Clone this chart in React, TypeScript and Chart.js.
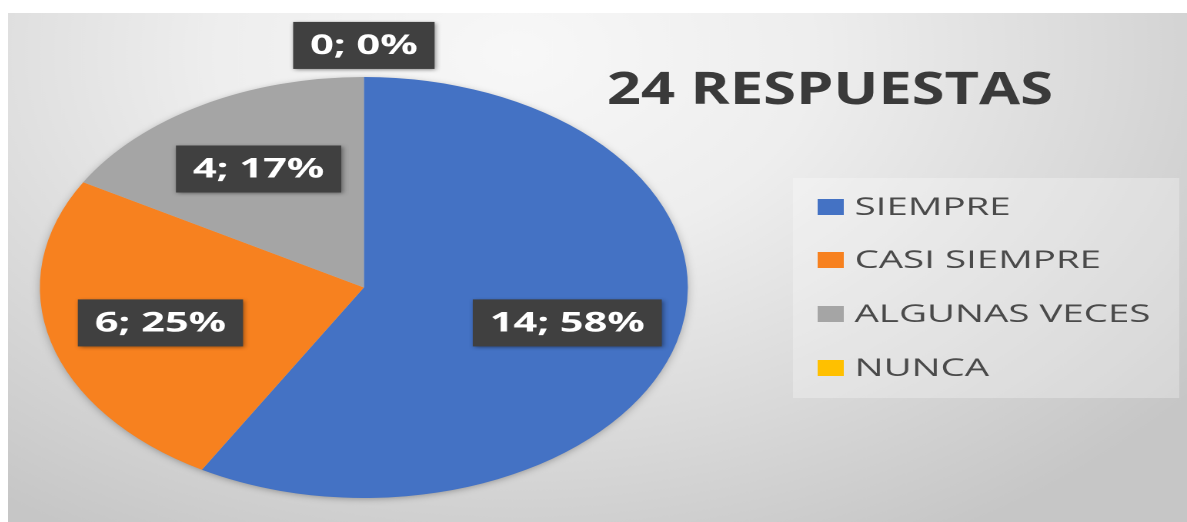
import React, { useEffect, useRef } from "react";
import { Chart, registerables } from "chart.js";

Chart.register(...registerables);

const categories = ["SIEMPRE", "CASI SIEMPRE", "ALGUNAS VECES", "NUNCA"];
const responses = [14, 6, 4, 0];
const sliceColors = ["#4472C4", "#F7811F", "#A5A5A5", "#FFC000"];
const titleText = "24 RESPUESTAS";

const LOGICAL_W = 766;
const LOGICAL_H = 509;
const DISPLAY_W = 1179;

const backgroundPlugin = {
  id: "bgPlugin",
  beforeDraw(chart: any) {
    const ctx = chart.ctx;
    const w = chart.width;
    const h = chart.height;
    ctx.save();
    const g = ctx.createRadialGradient(330, 40, 0, 330, 40, 560);
    g.addColorStop(0, "#f8f8f8");
    g.addColorStop(0.35, "#eeeeee");
    g.addColorStop(0.7, "#d9d9d9");
    g.addColorStop(1, "#c6c6c6");
    ctx.fillStyle = g;
    ctx.fillRect(0, 0, w, h);
    ctx.restore();
  },
  beforeDatasetsDraw(chart: any) {
    const meta = chart.getDatasetMeta(0);
    const arc = meta.data[0];
    if (!arc) return;
    const ctx = chart.ctx;
    ctx.save();
    ctx.shadowColor = "rgba(0,0,0,0.35)";
    ctx.shadowBlur = 14;
    ctx.shadowOffsetY = 3;
    ctx.fillStyle = "#c8c8c8";
    ctx.beginPath();
    ctx.arc(arc.x, arc.y, arc.outerRadius - 1, 0, Math.PI * 2);
    ctx.fill();
    ctx.restore();
  },
};

const dataLabelPlugin = {
  id: "dataLabelPlugin",
  afterDatasetsDraw(chart: any) {
    const ctx = chart.ctx;
    const meta = chart.getDatasetMeta(0);
    const ds = chart.data.datasets[0].data as number[];
    const total = ds.reduce((a, b) => a + b, 0);
    meta.data.forEach((arc: any, i: number) => {
      const v = ds[i];
      const pct = Math.round((v / total) * 100);
      const text = `${v}; ${pct}%`;
      const mid = (arc.startAngle + arc.endAngle) / 2;
      const f = v > 0 ? 0.65 : 1.15;
      const x = arc.x + Math.cos(mid) * arc.outerRadius * f;
      const y = arc.y + Math.sin(mid) * arc.outerRadius * f;
      ctx.save();
      ctx.font = 'bold 27px "Open Sans"';
      const tw = ctx.measureText(text).width;
      const bw = tw + 22;
      const bh = 47;
      ctx.shadowColor = "rgba(0,0,0,0.45)";
      ctx.shadowBlur = 7;
      ctx.shadowOffsetX = 2;
      ctx.shadowOffsetY = 2;
      ctx.fillStyle = "#404040";
      ctx.fillRect(x - bw / 2, y - bh / 2, bw, bh);
      ctx.shadowColor = "transparent";
      ctx.fillStyle = "#ffffff";
      ctx.textAlign = "center";
      ctx.textBaseline = "middle";
      ctx.fillText(text, x, y + 1);
      ctx.restore();
    });
  },
};

const legendTitlePlugin = {
  id: "legendTitlePlugin",
  afterDraw(chart: any) {
    const ctx = chart.ctx;
    ctx.save();
    // title
    ctx.fillStyle = "#3a3a3a";
    ctx.font = 'bold 45px "Open Sans"';
    ctx.textAlign = "center";
    ctx.textBaseline = "middle";
    ctx.translate(534, 78);
    ctx.scale(0.86, 1);
    ctx.fillText(titleText, 0, 0);
    ctx.restore();

    // legend
    ctx.save();
    ctx.fillStyle = "rgba(255,255,255,0.28)";
    ctx.fillRect(510, 165, 251, 220);
    const labels = chart.data.labels as string[];
    const colors = chart.data.datasets[0].backgroundColor as string[];
    const rows = [194, 247, 301, 355];
    ctx.font = '25px "Open Sans"';
    ctx.textBaseline = "middle";
    ctx.textAlign = "left";
    labels.forEach((lab, i) => {
      const cy = rows[i];
      ctx.fillStyle = colors[i];
      ctx.fillRect(526, cy - 8, 17, 16);
      ctx.fillStyle = "#4a4a4a";
      ctx.fillText(lab, 550, cy + 1);
    });
    ctx.restore();
  },
};

export default function App() {
  const ref = useRef<HTMLCanvasElement | null>(null);
  useEffect(() => {
    const canvas = ref.current;
    if (!canvas) return;
    const chart = new Chart(canvas, {
      type: "pie",
      data: {
        labels: categories,
        datasets: [
          {
            data: responses,
            backgroundColor: sliceColors,
            borderWidth: 0,
            hoverBorderWidth: 0,
            hoverOffset: 0,
            offset: 0,
          } as any,
        ],
      },
      options: {
        responsive: false,
        animation: false,
        devicePixelRatio: 2,
        layout: { padding: { left: 20.7, right: 324.3, top: 64, bottom: 24 } },
        plugins: {
          legend: { display: false },
          title: { display: false },
          tooltip: { enabled: false },
        },
        events: [],
      } as any,
      plugins: [backgroundPlugin, dataLabelPlugin, legendTitlePlugin],
    });
    return () => chart.destroy();
  }, []);
  return (
    <div style={{ position: "absolute", left: 8, top: 13, width: DISPLAY_W, height: LOGICAL_H }}>
      <canvas
        ref={ref}
        width={LOGICAL_W}
        height={LOGICAL_H}
        style={{ width: DISPLAY_W + "px", height: LOGICAL_H + "px", display: "block" }}
      />
    </div>
  );
}
